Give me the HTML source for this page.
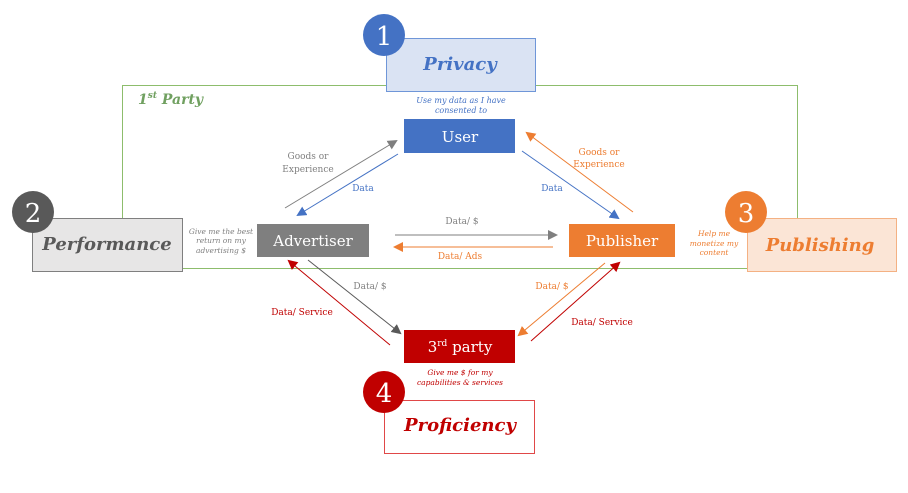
<!DOCTYPE html>
<html><head><meta charset="utf-8"><style>
body{margin:0;background:#fff;width:908px;height:488px;overflow:hidden}
svg text{font-family:"DejaVu Serif","Liberation Serif",serif}
</style></head><body>
<svg width="908" height="488" viewBox="0 0 908 488" xmlns="http://www.w3.org/2000/svg">
<defs>
<marker id="mg" markerWidth="10" markerHeight="10" refX="8" refY="5" orient="auto" markerUnits="userSpaceOnUse"><path d="M0,0 L10,5 L0,10 z" fill="#7f7f7f"/></marker>
<marker id="mb" markerWidth="10" markerHeight="10" refX="8" refY="5" orient="auto" markerUnits="userSpaceOnUse"><path d="M0,0 L10,5 L0,10 z" fill="#4472c4"/></marker>
<marker id="mo" markerWidth="10" markerHeight="10" refX="8" refY="5" orient="auto" markerUnits="userSpaceOnUse"><path d="M0,0 L10,5 L0,10 z" fill="#ed7d31"/></marker>
<marker id="mr" markerWidth="10" markerHeight="10" refX="8" refY="5" orient="auto" markerUnits="userSpaceOnUse"><path d="M0,0 L10,5 L0,10 z" fill="#c00000"/></marker>
<marker id="md" markerWidth="10" markerHeight="10" refX="8" refY="5" orient="auto" markerUnits="userSpaceOnUse"><path d="M0,0 L10,5 L0,10 z" fill="#595959"/></marker>
</defs>
<rect x="122.5" y="85.5" width="675" height="183" fill="none" stroke="#70ad47" stroke-opacity="0.8"/>
<text x="138" y="104" font-size="14" font-style="italic" font-weight="bold" fill="#70a060">1<tspan font-size="9" dy="-6">st</tspan><tspan dy="6"> Party</tspan></text>

<rect x="386.5" y="38.5" width="149" height="53" fill="#dae3f3" stroke="#6f96d8"/>
<circle cx="384" cy="35" r="21" fill="#4472c4"/>
<text x="384" y="45" font-size="26" fill="#fff" text-anchor="middle">1</text>
<text x="460" y="70" font-size="18" font-style="italic" font-weight="bold" fill="#4472c4" text-anchor="middle">Privacy</text>
<text x="461" y="103" font-size="8" font-style="italic" fill="#4472c4" text-anchor="middle">Use my data as I have</text>
<text x="461" y="113" font-size="8" font-style="italic" fill="#4472c4" text-anchor="middle">consented to</text>
<rect x="404" y="119" width="111" height="34" fill="#4472c4"/>
<text x="460" y="142" font-size="15" fill="#fff" text-anchor="middle">User</text>

<rect x="32.5" y="218.5" width="150" height="53" fill="#e7e6e6" stroke="#7f7f7f"/>
<circle cx="33" cy="212" r="21" fill="#595959"/>
<text x="33" y="222" font-size="26" fill="#fff" text-anchor="middle">2</text>
<text x="107" y="250" font-size="18" font-style="italic" font-weight="bold" fill="#595959" text-anchor="middle">Performance</text>
<text x="221" y="234" font-size="7.5" font-style="italic" fill="#808080" text-anchor="middle">Give me the best</text>
<text x="221" y="243" font-size="7.5" font-style="italic" fill="#808080" text-anchor="middle">return on my</text>
<text x="221" y="253" font-size="7.5" font-style="italic" fill="#808080" text-anchor="middle">advertising $</text>
<rect x="257" y="224" width="112" height="33" fill="#7f7f7f"/>
<text x="313" y="246" font-size="15" fill="#fff" text-anchor="middle">Advertiser</text>

<rect x="747.5" y="218.5" width="149" height="53" fill="#fbe5d6" stroke="#f4b183"/>
<circle cx="746" cy="212" r="21" fill="#ed7d31"/>
<text x="746" y="222" font-size="26" fill="#fff" text-anchor="middle">3</text>
<text x="820" y="251" font-size="18" font-style="italic" font-weight="bold" fill="#ed7d31" text-anchor="middle">Publishing</text>
<text x="714" y="236" font-size="7.5" font-style="italic" fill="#ed7d31" text-anchor="middle">Help me</text>
<text x="714" y="246" font-size="7.5" font-style="italic" fill="#ed7d31" text-anchor="middle">monetize my</text>
<text x="714" y="255" font-size="7.5" font-style="italic" fill="#ed7d31" text-anchor="middle">content</text>
<rect x="569" y="224" width="106" height="33" fill="#ed7d31"/>
<text x="622" y="246" font-size="15" fill="#fff" text-anchor="middle">Publisher</text>

<rect x="404" y="330" width="111" height="33" fill="#c00000"/>
<text x="460" y="352" font-size="15" fill="#fff" text-anchor="middle">3<tspan font-size="9" dy="-6">rd</tspan><tspan dy="6"> party</tspan></text>
<text x="460" y="375" font-size="7.5" font-style="italic" fill="#c00000" text-anchor="middle">Give me $ for my</text>
<text x="460" y="385" font-size="7.5" font-style="italic" fill="#c00000" text-anchor="middle">capabilities &amp; services</text>
<rect x="384.5" y="400.5" width="150" height="53" fill="#fff" stroke="#e04848"/>
<circle cx="384" cy="392" r="21" fill="#c00000"/>
<text x="384" y="402" font-size="26" fill="#fff" text-anchor="middle">4</text>
<text x="460" y="431" font-size="18" font-style="italic" font-weight="bold" fill="#c00000" text-anchor="middle">Proficiency</text>

<g stroke-width="1">
<line x1="285" y1="208" x2="396" y2="141" stroke="#7f7f7f" marker-end="url(#mg)"/>
<line x1="398" y1="154" x2="298" y2="215" stroke="#4472c4" marker-end="url(#mb)"/>
<line x1="522" y1="151" x2="618" y2="218" stroke="#4472c4" marker-end="url(#mb)"/>
<line x1="633" y1="212" x2="527" y2="133" stroke="#ed7d31" marker-end="url(#mo)"/>
<line x1="395" y1="235" x2="556" y2="235" stroke="#7f7f7f" marker-end="url(#mg)"/>
<line x1="553" y1="247" x2="395" y2="247" stroke="#ed7d31" marker-end="url(#mo)"/>
<line x1="308" y1="260" x2="400" y2="333" stroke="#595959" marker-end="url(#md)"/>
<line x1="390" y1="345" x2="289" y2="261" stroke="#c00000" marker-end="url(#mr)"/>
<line x1="605" y1="263" x2="519" y2="335" stroke="#ed7d31" marker-end="url(#mo)"/>
<line x1="531" y1="341" x2="619" y2="263" stroke="#c00000" marker-end="url(#mr)"/>
</g>
<g font-size="9">
<text x="308" y="159" fill="#808080" text-anchor="middle">Goods or</text>
<text x="308" y="172" fill="#808080" text-anchor="middle">Experience</text>
<text x="363" y="191" fill="#4472c4" text-anchor="middle">Data</text>
<text x="552" y="191" fill="#4472c4" text-anchor="middle">Data</text>
<text x="599" y="155" fill="#ed7d31" text-anchor="middle">Goods or</text>
<text x="599" y="167" fill="#ed7d31" text-anchor="middle">Experience</text>
<text x="462" y="224" fill="#808080" text-anchor="middle">Data/ $</text>
<text x="460" y="259" fill="#ed7d31" text-anchor="middle">Data/ Ads</text>
<text x="370" y="289" fill="#808080" text-anchor="middle">Data/ $</text>
<text x="552" y="289" fill="#ed7d31" text-anchor="middle">Data/ $</text>
<text x="302" y="315" fill="#c00000" text-anchor="middle">Data/ Service</text>
<text x="602" y="325" fill="#c00000" text-anchor="middle">Data/ Service</text>
</g>
</svg>
</body></html>
